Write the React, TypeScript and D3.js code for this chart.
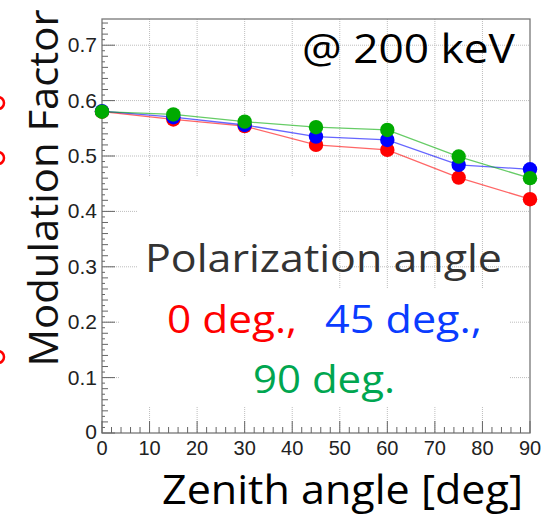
import React from "react";
import * as d3 from "d3";

const zenith = [0, 15, 30, 45, 60, 75, 90];
const mf0 = [0.580, 0.566, 0.554, 0.520, 0.511, 0.461, 0.422];
const mf45 = [0.581, 0.570, 0.556, 0.535, 0.529, 0.484, 0.476];
const mf90 = [0.580, 0.575, 0.562, 0.552, 0.547, 0.499, 0.460];
const xTicks = [0, 10, 20, 30, 40, 50, 60, 70, 80, 90];
const yTicks = [0, 0.1, 0.2, 0.3, 0.4, 0.5, 0.6, 0.7];

const series = [
  { name: "0 deg.", values: mf0, color: "#ff0000" },
  { name: "45 deg.", values: mf45, color: "#0000ff" },
  { name: "90 deg.", values: mf90, color: "#00aa00" },
];

const W = 543, H = 516;
const L = 102, R = 530, T = 19, B = 433;
const comic = "'Comic Sans MS', 'Open Sans', 'DejaVu Sans', sans-serif";
const helv = "'Liberation Sans', Arial, sans-serif";

export default function App() {
  const x = d3.scaleLinear().domain([0, 90]).range([L, R]);
  const y = d3.scaleLinear().domain([0, 0.7473]).range([B, T]);
  const line = d3.line<number>().x((_, i) => x(zenith[i])).y((d) => y(d));

  const minorY = d3.range(0, 0.745, 0.01);
  const minorX = d3.range(0, 90.1, 2);
  const grid = "#bdbdbd";

  return (
    <svg width={W} height={H} style={{ position: "absolute", left: 0, top: 0, background: "#fff" }}>
      <rect width={W} height={H} fill="#fff" />
      {/* grid lines */}
      <g stroke={grid} strokeWidth={1} strokeDasharray="1,1">
        {xTicks.slice(1, -1).map((t) => (
          <line key={"gx" + t} x1={x(t)} x2={x(t)} y1={T} y2={B} />
        ))}
        {yTicks.slice(1).map((t) => (
          <line key={"gy" + t} x1={L} x2={R} y1={y(t)} y2={y(t)} />
        ))}
      </g>
      {/* white boxes covering grid behind text */}
      <rect x={137} y={177} width={202} height={111} fill="#fff" />
      <rect x={120} y={288} width={390} height={119} fill="#fff" />

      {/* frame */}
      <rect x={L} y={T} width={R - L} height={B - T} fill="none" stroke="#777" strokeWidth={1.3} />
      {/* ticks */}
      <g stroke="#666" strokeWidth={1}>
        {minorY.map((v, i) => {
          const k = Math.round(v * 100);
          const len = k % 10 === 0 ? 13 : k % 2 === 0 ? 6 : 3;
          return <line key={"ty" + i} x1={L} x2={L + len} y1={y(v)} y2={y(v)} />;
        })}
        {minorX.map((v, i) => {
          const len = Math.round(v) % 10 === 0 ? 12 : 6;
          return <line key={"tx" + i} x1={x(v)} x2={x(v)} y1={B} y2={B - len} />;
        })}
      </g>
      {/* tick labels */}
      <g fontFamily={helv} fontSize={21} fill="#222">
        {yTicks.map((t) => (
          <text key={"ly" + t} x={97} y={t === 0 ? y(t) + 6 : y(t) + 7} textAnchor="end">
            {t === 0 ? "0" : t.toFixed(1)}
          </text>
        ))}
        {xTicks.map((t) => (
          <text key={"lx" + t} x={x(t)} y={455} textAnchor="middle" fontSize={20}>
            {t}
          </text>
        ))}
      </g>

      {/* data */}
      {series.map((s) => (
        <path key={"l" + s.name} d={line(s.values) || ""} fill="none" stroke={s.color} strokeOpacity={0.6} strokeWidth={1.3} />
      ))}
      {series.map((s) =>
        s.values.map((v, i) => (
          <circle key={s.name + i} cx={x(zenith[i])} cy={y(v)} r={7.2} fill={s.color} />
        ))
      )}

      {/* titles */}
      <text x={523} y={504} textAnchor="end" fontFamily={comic} fontSize={40} fill="#000" textLength={361} lengthAdjust="spacingAndGlyphs">
        Zenith angle [deg]
      </text>
      <text transform="translate(58,188) rotate(-90)" textAnchor="middle" fontFamily={comic} fontSize={41} fill="#111" textLength={357} lengthAdjust="spacingAndGlyphs">
        Modulation Factor
      </text>
      <text x={302} y={63} fontFamily={comic} fontSize={40} fill="#000" textLength={213} lengthAdjust="spacingAndGlyphs">
        @ 200 keV
      </text>
      <text x={145} y={272} fontFamily={comic} fontSize={39} fill="#333" textLength={357} lengthAdjust="spacingAndGlyphs">
        Polarization  angle
      </text>
      <text x={167} y={333} fontFamily={comic} fontSize={39} fill="#ff0000" textLength={130} lengthAdjust="spacingAndGlyphs">
        0 deg.,
      </text>
      <text x={325} y={333} fontFamily={comic} fontSize={39} fill="#0a3cff" textLength={157} lengthAdjust="spacingAndGlyphs">
        45 deg.,
      </text>
      <text x={253} y={393} fontFamily={comic} fontSize={39} fill="#00a650" textLength={142} lengthAdjust="spacingAndGlyphs">
        90 deg.
      </text>

      {/* cut-off red marks at left edge */}
      <g fill="none" stroke="#ff0000" strokeWidth={2.5}>
        <circle cx={-2} cy={103} r={6} />
        <circle cx={-2} cy={158} r={6} />
        <circle cx={-2} cy={357} r={6} />
      </g>
    </svg>
  );
}
